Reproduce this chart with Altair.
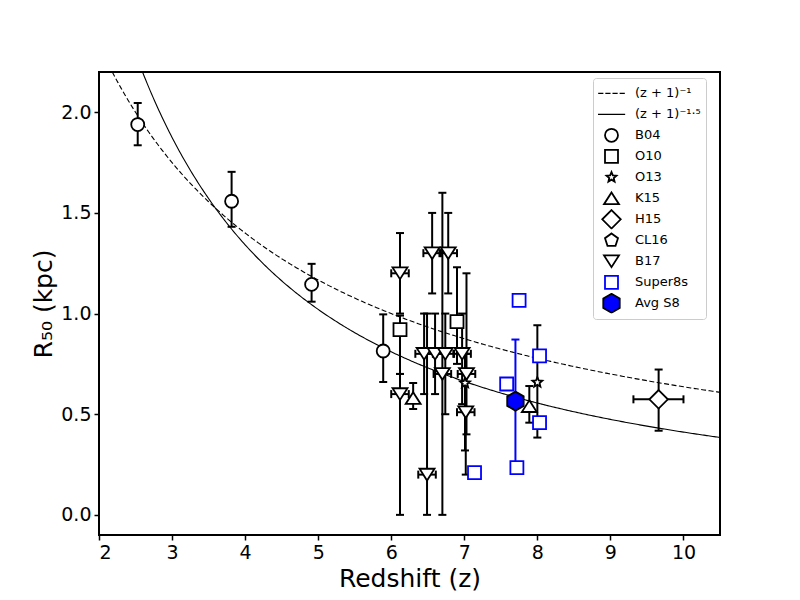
import altair as alt
import pandas as pd

# ---------------- data ----------------
labels = ["(z + 1)⁻¹", "(z + 1)⁻¹·⁵", "B04", "O10", "O13", "K15", "H15",
          "CL16", "B17", "Super8s", "Avg S8"]

b04_z = [2.53, 3.815, 4.91, 5.89]
b04_r = [1.939, 1.558, 1.145, 0.814]
b04_lo = [1.836, 1.431, 1.059, 0.660]
b04_hi = [2.046, 1.704, 1.247, 0.996]

o10_z = [6.12, 6.90]
o10_r = [0.92, 0.96]
o10_lo = [0.70, 0.75]
o10_hi = [0.99, 1.23]

o13_z = [7.01, 8.00]
o13_r = [0.655, 0.658]
o13_lo = [0.32, 0.384]
o13_hi = [0.80, 0.942]

k15_z = [6.30, 7.89]
k15_r = [0.58, 0.54]
k15_lo = [0.526, 0.458]
k15_hi = [0.655, 0.64]

h15_z = [9.66]
h15_r = [0.574]
h15_lo = [0.418]
h15_hi = [0.722]
h15_zlo = [9.315]
h15_zhi = [10.0]

b17_z = [6.12, 6.12, 6.56, 6.78, 6.45, 6.60, 6.74, 6.97, 6.70, 7.03, 7.02, 6.49]
b17_r = [1.20, 0.60, 1.30, 1.30, 0.80, 0.80, 0.80, 0.80, 0.70, 0.70, 0.51, 0.20]
b17_lo = [1.00, 0.00, 1.10, 1.10, 0.60, 0.60, 0.50, 0.55, 0.00, 0.40, 0.20, 0.00]
b17_hi = [1.40, 0.70, 1.50, 1.50, 1.00, 1.00, 1.00, 1.00, 1.60, 1.20, 0.80, 1.00]
b17_dz = [0.12, 0.12, 0.12, 0.12, 0.12, 0.12, 0.12, 0.12, 0.12, 0.12, 0.12, 0.12]

s8_z = [7.14, 7.58, 7.75, 7.72, 8.03, 8.03]
s8_r = [0.21, 0.65, 1.066, 0.235, 0.79, 0.458]

avg_z = [7.70]
avg_r = [0.565]
avg_lo = [0.26]
avg_hi = [0.871]

# model curves R = A (1+z)^p
dash_amp, dash_pow = 7.0, -1.0
solid_amp, solid_pow = 15.0, -1.5

# marker / legend symbols (unit box = 13 px)
DASH_PATH = "M-2.05,0L-1.25,0M-0.95,0L-0.15,0M0.15,0L0.95,0M1.25,0L2.05,0"
LINE_PATH = "M-2.1,0L2.1,0"
STAR_PATH = ("M0,-0.8L0.212,-0.291L0.761,-0.247L0.342,0.111L0.47,0.647L0,0.36"
             "L-0.47,0.647L-0.342,0.111L-0.761,-0.247L-0.212,-0.291Z")
TUP_PATH = "M0,-0.9L1.15,0.9L-1.15,0.9Z"
TDOWN_PATH = "M-1.15,-0.9L1.15,-0.9L0,0.9Z"
DIAM_PATH = "M0,-1.42L1.42,0L0,1.42L-1.42,0Z"
PENT_PATH = "M0,-1.05L1.0,-0.324L0.617,0.85L-0.617,0.85L-1.0,-0.324Z"
HEX_PATH = "M0,-1.46L1.264,-0.73L1.264,0.73L0,1.46L-1.264,0.73L-1.264,-0.73Z"

shapes = [DASH_PATH, LINE_PATH, "circle", "square", STAR_PATH, TUP_PATH,
          DIAM_PATH, PENT_PATH, TDOWN_PATH, "square", HEX_PATH]
fills = ["white"] * 9 + ["white", "blue"]
strokes = ["black"] * 9 + ["blue", "black"]
swidths = [1.2, 1.2] + [1.8] * 9

# ---------------- tables ----------------
rows = []
def add(series, z, r, lo=None, hi=None, zlo=None, zhi=None, bar="black"):
    for i in range(len(z)):
        rows.append(dict(series=series, z=z[i], R=r[i],
                         lo=None if lo is None else lo[i],
                         hi=None if hi is None else hi[i],
                         zlo=None if zlo is None else zlo[i],
                         zhi=None if zhi is None else zhi[i],
                         bar=bar))

add("B04", b04_z, b04_r, b04_lo, b04_hi)
add("O10", o10_z, o10_r, o10_lo, o10_hi)
add("O13", o13_z, o13_r, o13_lo, o13_hi)
add("K15", k15_z, k15_r, k15_lo, k15_hi)
add("H15", h15_z, h15_r, h15_lo, h15_hi, h15_zlo, h15_zhi)
add("B17", b17_z, b17_r, b17_lo, b17_hi,
    [b17_z[i] - b17_dz[i] for i in range(len(b17_z))],
    [b17_z[i] + b17_dz[i] for i in range(len(b17_z))])
add("Super8s", s8_z, s8_r)
add("Avg S8", avg_z, avg_r, avg_lo, avg_hi, bar="blue")

df = pd.DataFrame(rows)
ey = df[df["lo"].notna()].copy()
ex = df[df["zlo"].notna()].copy()
caps_y = pd.concat([
    ey[["z", "lo", "bar"]].rename(columns={"lo": "v"}),
    ey[["z", "hi", "bar"]].rename(columns={"hi": "v"}),
])
caps_x = pd.concat([
    ex[["zlo", "R", "bar"]].rename(columns={"zlo": "v"}),
    ex[["zhi", "R", "bar"]].rename(columns={"zhi": "v"}),
])

# ---------------- scales / axes ----------------
xscale = alt.Scale(domain=[2, 10.5], nice=False, zero=False)
yscale = alt.Scale(domain=[-0.1, 2.2], nice=False, zero=False)
xaxis = alt.Axis(values=[2, 3, 4, 5, 6, 7, 8, 9, 10], format="d")
yaxis = alt.Axis(values=[0, 0.5, 1.0, 1.5, 2.0], format=".1f")
XT = "Redshift (z)"
YT = "R₅₀ (kpc)"

def X(f):
    return alt.X(f, type="quantitative", scale=xscale, axis=xaxis, title=XT)

def Y(f):
    return alt.Y(f, type="quantitative", scale=yscale, axis=yaxis, title=YT)

# ---------------- curves ----------------
curves = alt.Chart(alt.sequence(2.0, 10.52, 0.02, as_="z")).transform_calculate(
    dash=f"{dash_amp} * pow(datum.z + 1, {dash_pow})",
    solid=f"{solid_amp} * pow(datum.z + 1, {solid_pow})",
)
dash_line = curves.mark_line(color="black", strokeWidth=1.1, strokeDash=[5, 2.5],
                             clip=True).encode(x=X("z"), y=Y("dash"))
solid_line = curves.mark_line(color="black", strokeWidth=1.1,
                              clip=True).encode(x=X("z"), y=Y("solid"))

# ---------------- error bars ----------------
vbars = alt.Chart(ey).mark_rule(strokeWidth=2).encode(
    x=X("z"), y=Y("lo"), y2="hi", color=alt.Color("bar:N", scale=None))
hbars = alt.Chart(ex).mark_rule(strokeWidth=2).encode(
    x=X("zlo"), x2="zhi", y=Y("R"), color=alt.Color("bar:N", scale=None))
vcaps = alt.Chart(caps_y).mark_tick(orient="horizontal", size=8, thickness=2,
                                    opacity=1).encode(
    x=X("z"), y=Y("v"), color=alt.Color("bar:N", scale=None))
hcaps = alt.Chart(caps_x).mark_tick(orient="vertical", size=8, thickness=2,
                                    opacity=1).encode(
    x=X("v"), y=Y("R"), color=alt.Color("bar:N", scale=None))

# ---------------- points + legend ----------------
leg = alt.Legend(title=None, orient="none", legendX=494, legendY=6,
                 fillColor="white", strokeColor="#cccccc", cornerRadius=3,
                 padding=5, labelFontSize=13, labelFont="DejaVu Sans",
                 labelColor="black", rowPadding=0, gridAlign="all",
                 clipHeight=20.6,
                 symbolSize=169, symbolOffset=6, labelOffset=16,
                 symbolOpacity=1)

points = alt.Chart(df).mark_point(filled=True, opacity=1, size=169).encode(
    x=X("z"), y=Y("R"),
    shape=alt.Shape("series:N", scale=alt.Scale(domain=labels, range=shapes), legend=leg),
    fill=alt.Fill("series:N", scale=alt.Scale(domain=labels, range=fills), legend=leg),
    stroke=alt.Stroke("series:N", scale=alt.Scale(domain=labels, range=strokes), legend=leg),
    strokeWidth=alt.StrokeWidth("series:N", scale=alt.Scale(type="ordinal", domain=labels, range=swidths), legend=leg),
)

chart = alt.layer(dash_line, solid_line, vbars, hbars, vcaps, hcaps, points).properties(
    width=621, height=463,
    autosize=alt.AutoSizeParams(type="none"),
    padding={"left": 91, "top": 64, "right": 72, "bottom": 70},
).configure_view(
    stroke="black", strokeWidth=2
).configure_axis(
    grid=False, domain=False, ticks=True, tickColor="black", tickWidth=1.5,
    tickSize=5, labelFont="DejaVu Sans", labelFontSize=19, labelColor="black",
    labelPadding=3, titleFont="DejaVu Sans", titleFontSize=25,
    titleFontWeight="normal", titleColor="black", titlePadding=4,
)

chart.save("out.html", embed_options={"renderer": "svg", "actions": False})
